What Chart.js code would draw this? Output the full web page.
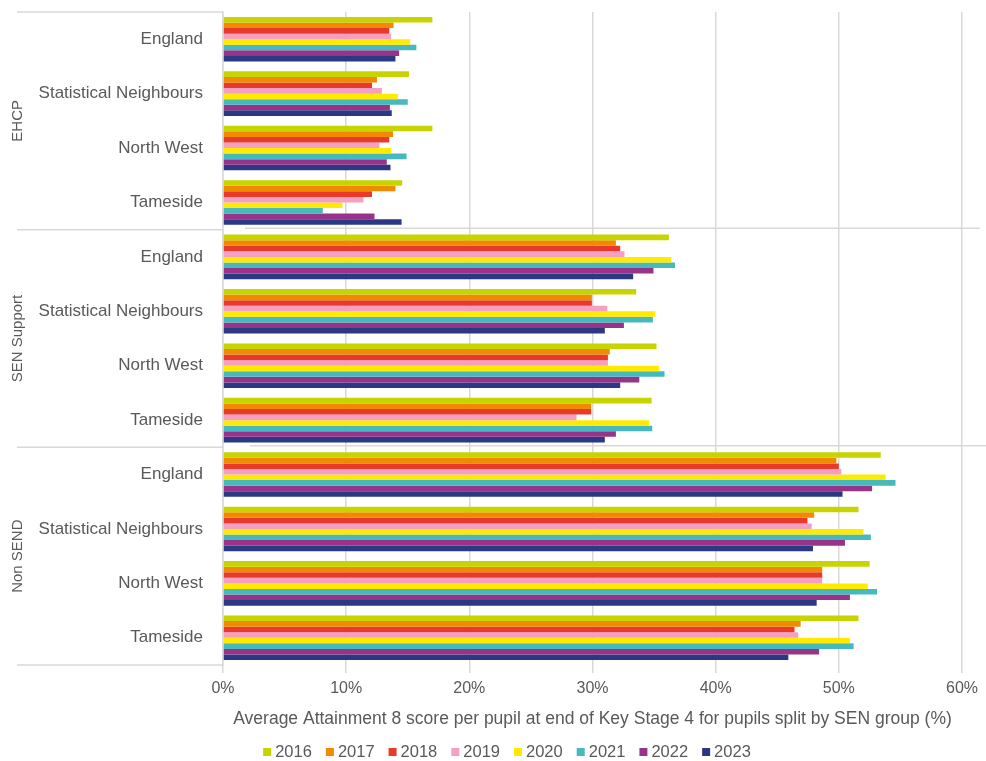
<!DOCTYPE html>
<html>
<head>
<meta charset="utf-8">
<script src="https://cdn.jsdelivr.net/npm/chart.js@4/dist/chart.umd.min.js"></script>
<style>
  html, body { margin: 0; padding: 0; background: #ffffff; }
  #wrap { width: 986px; height: 761px; }
</style>
</head>
<body>
<div id="wrap"><canvas id="chart" width="986" height="761"></canvas></div>
<script>
// Category labels (region within each SEN group), top to bottom
const categories = [
  'England', 'Statistical Neighbours', 'North West', 'Tameside',
  'England', 'Statistical Neighbours', 'North West', 'Tameside',
  'England', 'Statistical Neighbours', 'North West', 'Tameside'
];
// SEN groups, each covering four consecutive categories
const groups = ['EHCP', 'SEN Support', 'Non SEND'];
const years = ['2016', '2017', '2018', '2019', '2020', '2021', '2022', '2023'];
const colours = ['#c8d400', '#f08a00', '#e8392a', '#f4a0c4', '#ffea00', '#45b9bd', '#973489', '#2b3883'];
const xTicks = [0, 10, 20, 30, 40, 50, 60];
const xTitle = 'Average Attainment 8 score per pupil at end of Key Stage 4 for pupils split by SEN group (%)';

// Average Attainment 8 score (%) per year, in category order
const v2016 = [17.0, 15.1, 17.0, 14.55, 36.2, 33.55, 35.2, 34.8, 53.4, 51.6, 52.5, 51.6];
const v2017 = [13.85, 12.5, 13.8, 14.0, 31.9, 29.95, 31.4, 29.9, 49.8, 48.0, 48.65, 46.9];
const v2018 = [13.5, 12.1, 13.5, 12.1, 32.25, 29.95, 31.25, 29.9, 50.0, 47.45, 48.65, 46.4];
const v2019 = [13.65, 12.9, 12.7, 11.4, 32.6, 31.2, 31.25, 28.7, 50.2, 47.8, 48.65, 46.7];
const v2020 = [15.2, 14.2, 13.65, 9.7, 36.4, 35.1, 35.4, 34.6, 53.8, 52.0, 52.35, 50.9];
const v2021 = [15.7, 15.0, 14.9, 8.1, 36.7, 34.9, 35.85, 34.85, 54.6, 52.6, 53.1, 51.2];
const v2022 = [14.3, 13.55, 13.3, 12.3, 34.95, 32.55, 33.8, 31.9, 52.7, 50.5, 50.9, 48.4];
const v2023 = [14.0, 13.7, 13.6, 14.5, 33.3, 31.0, 32.25, 31.0, 50.3, 47.9, 48.2, 45.9];
const series = [v2016, v2017, v2018, v2019, v2020, v2021, v2022, v2023];

const FONT = 'Liberation Sans, Arial, sans-serif';
const TEXT = '#595959';
const LINE = '#d9d9d9';

// Group dividers, rotated group names and the legend row
const groupDecor = {
  id: 'groupDecor',
  afterDraw(chart) {
    const { ctx, chartArea: a, scales: { y } } = chart;
    const per = categories.length / groups.length;
    const bounds = [];
    for (let g = 0; g <= groups.length; g++) bounds.push(y.getPixelForValue(g * per - 0.5));

    ctx.save();
    ctx.strokeStyle = LINE;
    ctx.lineWidth = 1.5;
    // dividers in the label column
    bounds.forEach(b => {
      ctx.beginPath();
      ctx.moveTo(17, b);
      ctx.lineTo(a.left - 0.5, b);
      ctx.stroke();
    });
    // dividers across the plot between groups
    const spans = [[22, 18], [27, 24]];
    for (let g = 1; g < groups.length; g++) {
      const [s, e] = spans[g - 1];
      const yy = bounds[g] - 1.5;
      ctx.beginPath();
      ctx.moveTo(a.left + s, yy);
      ctx.lineTo(a.right + e, yy);
      ctx.stroke();
    }

    // group names, rotated
    ctx.fillStyle = TEXT;
    ctx.font = '15px ' + FONT;
    ctx.textAlign = 'center';
    ctx.textBaseline = 'middle';
    groups.forEach((name, g) => {
      ctx.save();
      ctx.translate(18, (bounds[g] + bounds[g + 1]) / 2);
      ctx.rotate(-Math.PI / 2);
      ctx.fillText(name, 0, 0);
      ctx.restore();
    });

    // legend
    const box = 8, gapBox = 4, gapItem = 14, cy = 752;
    ctx.font = '16.5px ' + FONT;
    ctx.textAlign = 'left';
    const items = chart.data.datasets.map(d => ({ label: d.label, color: d.backgroundColor, w: ctx.measureText(d.label).width }));
    const total = items.reduce((s, it) => s + box + gapBox + it.w, 0) + gapItem * (items.length - 1);
    let x = 507 - total / 2;
    items.forEach(it => {
      ctx.fillStyle = it.color;
      ctx.fillRect(x, cy - box / 2, box, box);
      x += box + gapBox;
      ctx.fillStyle = TEXT;
      ctx.fillText(it.label, x, cy);
      x += it.w + gapItem;
    });
    ctx.restore();
  }
};

new Chart(document.getElementById('chart'), {
  type: 'bar',
  data: {
    labels: categories,
    datasets: years.map((yr, i) => ({
      label: yr,
      data: series[i],
      backgroundColor: colours[i],
      borderWidth: 0,
      categoryPercentage: 0.82,
      barPercentage: 1.0
    }))
  },
  options: {
    indexAxis: 'y',
    responsive: false,
    animation: false,
    layout: { padding: { top: 12, right: 24, bottom: 0, left: 0 } },
    plugins: { legend: { display: false }, tooltip: { enabled: false } },
    scales: {
      x: {
        min: xTicks[0],
        max: xTicks[xTicks.length - 1],
        afterBuildTicks(scale) { scale.ticks = xTicks.map(v => ({ value: v })); },
        ticks: { callback: v => v + '%', color: TEXT, font: { family: FONT, size: 16 }, padding: 6, maxRotation: 0 },
        grid: { color: LINE, lineWidth: 1.5, tickLength: 8 },
        border: { display: false },
        title: { display: true, text: xTitle, color: TEXT, font: { family: FONT, size: 17.5 }, padding: { top: 4, bottom: 31 } },
        afterFit(scale) { scale.height = 96; }
      },
      y: {
        ticks: { color: TEXT, font: { family: FONT, size: 17 }, padding: 20, autoSkip: false },
        grid: { display: false, drawTicks: false },
        border: { display: true, color: LINE, width: 1.5 },
        afterFit(scale) { scale.width = 223; scale.paddingTop = 0; scale.paddingBottom = 0; }
      }
    }
  },
  plugins: [groupDecor]
});
</script>
</body>
</html>
